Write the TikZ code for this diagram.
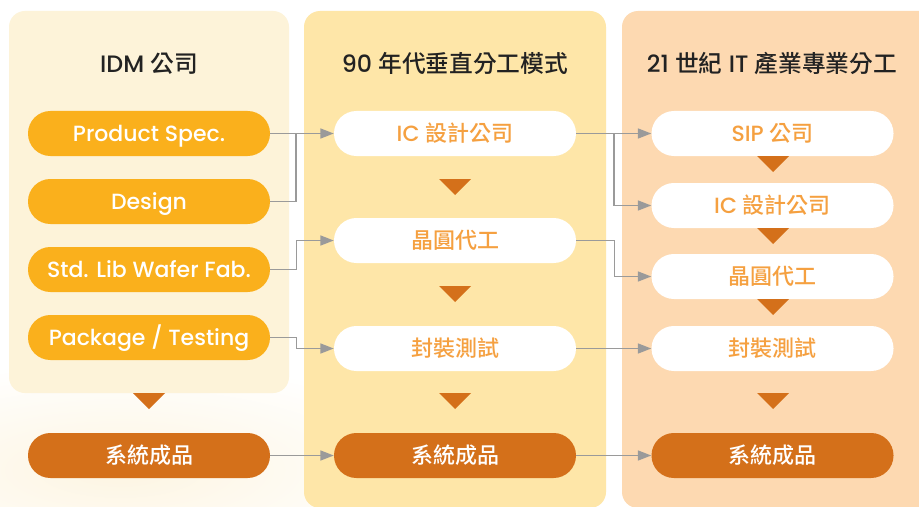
\documentclass[tikz,border=0pt]{standalone}
\usepackage{fontspec}
\usetikzlibrary{arrows.meta}
\newfontfamily\pop{Poppins}[UprightFont=* Medium, BoldFont=* SemiBold]
\newfontfamily\cjk{Noto Sans CJK TC}[UprightFont=* Medium, BoldFont=* Bold]
\definecolor{panelA}{HTML}{FDF3D9}
\definecolor{panelB}{HTML}{FEE6A8}
\definecolor{panelC}{HTML}{FDD9B1}
\definecolor{amber}{HTML}{FAB01C}
\definecolor{darkor}{HTML}{D4701A}
\definecolor{ortext}{HTML}{F5A040}
\definecolor{linegray}{HTML}{9A9A9A}
\definecolor{titlec}{HTML}{222222}
\definecolor{glow}{HTML}{FDF5E2}
\begin{document}
\begin{tikzpicture}[x=0.75pt,y=-0.75pt,
  pill/.style={minimum width=181.5pt, minimum height=33.75pt, rounded corners=16.8pt, inner sep=0pt, text height=11.5pt, text depth=0pt, font=\fontsize{16.5}{18}\selectfont},
  amberpill/.style={pill, fill=amber, text=white},
  whitepill/.style={pill, fill=white, text=ortext},
  darkpill/.style={pill, fill=darkor, text=white},
  titletext/.style={text=titlec, inner sep=0pt, text height=12.4pt, text depth=0pt, font=\fontsize{17.8}{19}\selectfont},
  conn/.style={draw=linegray, line width=1.1pt},
  arr/.style={conn, -{Triangle[length=10pt,width=7.5pt]}},
  tri/.style={fill=darkor}]
\useasboundingbox (0,0) rectangle (919,506);
\fill[white] (0,0) rectangle (919,506);
\shade[inner color=glow, outer color=white] (120,470) ellipse [x radius=330, y radius=110];
% panels
\fill[panelA, rounded corners=12pt] (9,11) rectangle (289,393);
\fill[panelB, rounded corners=12pt] (304,11) rectangle (606,508);
\fill[panelC, rounded corners=12pt] (622,11) rectangle (940,508);
% titles
\node[titletext] (t1) at (149,64.5) {{\pop IDM }{\cjk 公司}};
\node[titletext] (t2) at (455,64.5) {{\pop 90 }{\cjk 年代垂直分工模式}};
\node[titletext] (t3) at (772,64.5) {{\pop 21 }{\cjk 世紀}{\pop{} IT }{\cjk 產業專業分工}};
% left column
\node[amberpill] (ps) at (149,133.5) {\pop Product Spec.};
\node[amberpill] (de) at (149,201.5) {\pop Design};
\node[amberpill] (sl) at (149,269.5) {\pop Std. Lib Wafer Fab.};
\node[amberpill] (pt) at (149,337.5) {\pop Package / Testing};
\node[darkpill] (s1) at (149,455.5) {\cjk 系統成品};
% middle column
\node[whitepill] (ic1) at (455,133.5) {{\pop IC }{\cjk 設計公司}};
\node[whitepill] (wf1) at (455,240.5) {\cjk 晶圓代工};
\node[whitepill] (pk1) at (455,348.5) {\cjk 封裝測試};
\node[darkpill] (s2) at (455,455.5) {\cjk 系統成品};
% right column
\node[whitepill] (sip) at (772.5,133.5) {{\pop SIP }{\cjk 公司}};
\node[whitepill] (ic2) at (772.5,205.5) {{\pop IC }{\cjk 設計公司}};
\node[whitepill] (wf2) at (772.5,276.5) {\cjk 晶圓代工};
\node[whitepill] (pk2) at (772.5,348.5) {\cjk 封裝測試};
\node[darkpill] (s3) at (772.5,455.5) {\cjk 系統成品};
% down triangles
\fill[tri] (133,393) -- (165,393) -- (149,409) -- cycle;
\fill[tri] (439,179) -- (471,179) -- (455,195) -- cycle;
\fill[tri] (439,286) -- (471,286) -- (455,302) -- cycle;
\fill[tri] (439,393) -- (471,393) -- (455,409) -- cycle;
\fill[tri] (757,156) -- (789,156) -- (773,172) -- cycle;
\fill[tri] (757,228) -- (789,228) -- (773,244) -- cycle;
\fill[tri] (757,299) -- (789,299) -- (773,315) -- cycle;
\fill[tri] (757,393) -- (789,393) -- (773,409) -- cycle;
% connectors left -> middle
\coordinate (j1) at (296,133.5);
\draw[arr] (ps.east) -- (ic1.west);
\draw[conn] (de.east) -| (j1);
\draw[arr] (sl.east) -- ++(26,0) |- (wf1.west);
\draw[arr] (pt.east) -- ++(26,0) |- (pk1.west);
\draw[arr] (s1.east) -- (s2.west);
% connectors middle -> right
\coordinate (j2) at (614,133.5);
\draw[arr] (ic1.east) -- (sip.west);
\draw[arr] (j2) |- (ic2.west);
\draw[arr] (wf1.east) -- ++(38,0) |- (wf2.west);
\draw[arr] (pk1.east) -- (pk2.west);
\draw[arr] (s2.east) -- (s3.west);
\end{tikzpicture}
\end{document}
